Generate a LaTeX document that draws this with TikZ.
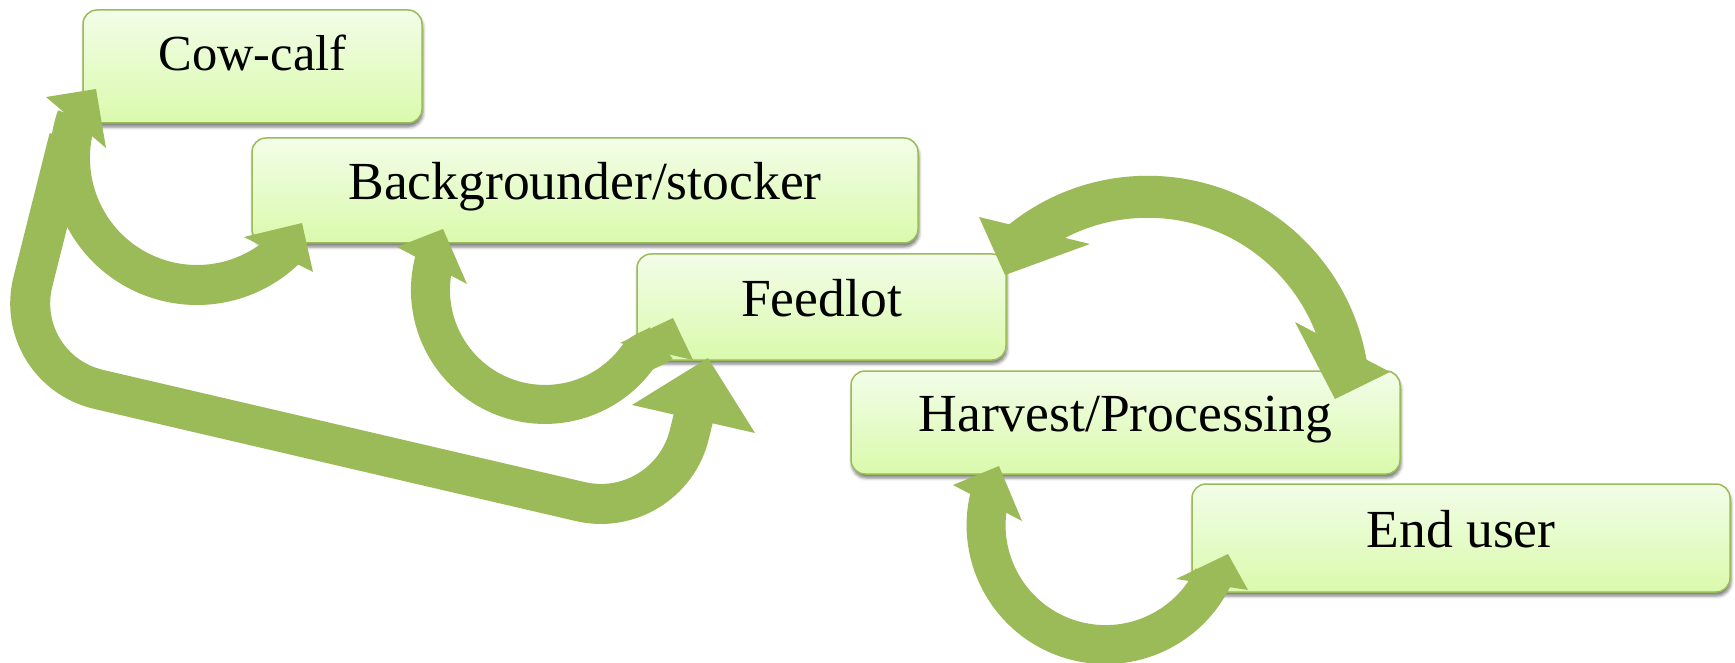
\documentclass[tikz,border=0pt]{standalone}
\usepackage{fontspec}
\setmainfont{Liberation Serif}
\usetikzlibrary{shadows.blur}
\definecolor{arrowgreen}{RGB}{155,187,89}
\definecolor{boxline}{RGB}{155,187,89}
\definecolor{boxtop}{RGB}{242,253,232}
\definecolor{boxbot}{RGB}{218,250,172}
\begin{document}
\begin{tikzpicture}[x=1pt,y=-1pt,
  stage/.style={draw=boxline, line width=1.5pt, rounded corners=14pt,
    top color=boxtop, bottom color=boxbot, inner sep=0pt,
    text height=36pt, text depth=18pt,
    font=\fontsize{53.6pt}{60pt}\selectfont,
    blur shadow={shadow xshift=1pt, shadow yshift=-4pt, shadow blur radius=3pt, shadow opacity=50}},
  band/.style={draw=arrowgreen, line width=40pt},
  head/.style={fill=arrowgreen}]
\useasboundingbox (0,0) rectangle (1735,663);
% stages
\node[stage, minimum width=339pt, minimum height=113pt, text height=34pt, text depth=25pt,
      font=\fontsize{50.5pt}{58pt}\selectfont] (cow) at (252.5,66.5) {Cow-calf};
\node[stage, minimum width=666pt, minimum height=105pt] (back) at (585,190.5) {Backgrounder/stocker};
\node[stage, minimum width=369pt, minimum height=106pt] (feed) at (821.5,307) {Feedlot};
\node[stage, minimum width=549pt, minimum height=103pt] (harv) at (1125.5,422.5) {Harvest/Processing};
\node[stage, minimum width=538pt, minimum height=108pt] (end) at (1461,538) {End user};
% A: cow-calf <-> backgrounder
\draw[band] (76.9,116.65) arc[start angle=199, end angle=46, radius=127];
\fill[head] (46,97) -- (96,89) -- (106,148) -- cycle;
\fill[head] (244,237) -- (302,223) -- (313,272) -- cycle;
% B: long loop cow-calf -> feedlot
\draw[band, line width=40pt, rounded corners=90pt] (69,138) -- (11,369) -- (668,522) -- (696,407);
\fill[head] (632,405) -- (708,358) -- (755,433) -- cycle;
% C: backgrounder <-> feedlot
\draw[band, line width=39pt] (434.9,258.4) arc[start angle=196, end angle=36, radius=114.5]
   .. controls (642.3,350.8) and (655,348.3) .. (661,343);
\fill[head] (397,247) -- (443,229) -- (467,284) -- cycle;
\fill[head] (620,343) -- (673,318) -- (693,360) -- cycle;
% D: feedlot <-> harvest
\draw[band, line width=42pt] (1018.6,243.8) arc[start angle=230, end angle=351, radius=201];
\fill[head] (979,217) -- (1090,244) -- (1005,275) -- cycle;
\fill[head] (1295,322) -- (1390,372) -- (1335,399) -- cycle;
% E: harvest <-> end user
\draw[band, line width=39pt] (989.8,495.6) arc[start angle=194.3, end angle=25.9, radius=119.5];
\fill[head] (953,485) -- (999,466) -- (1022,521) -- cycle;
\fill[head] (1176,579) -- (1228,554) -- (1248,590) -- cycle;
\end{tikzpicture}
\end{document}
